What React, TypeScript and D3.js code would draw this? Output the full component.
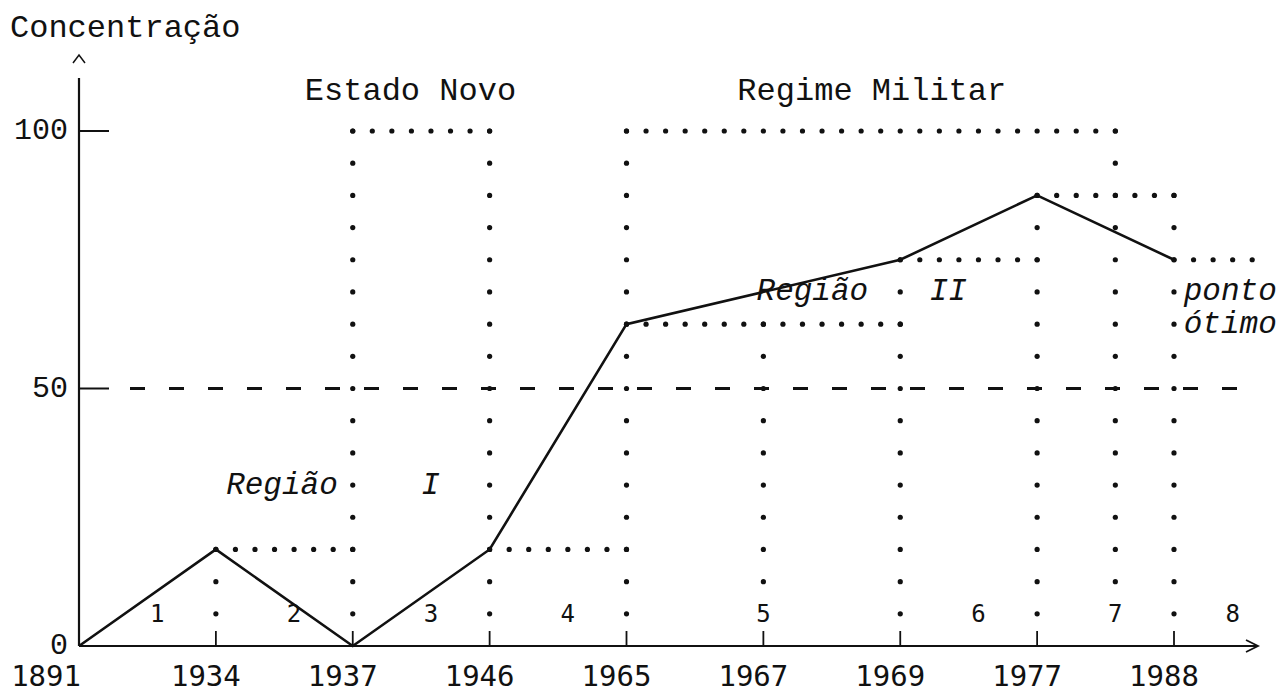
import React from "react";
import * as d3 from "d3";

// ---- data ----
const years = ["1891", "1934", "1937", "1946", "1965", "1967", "1969", "1977", "1988"];
const lineYears = ["1891", "1934", "1937", "1946", "1965", "1969", "1977", "1988"];
const lineValues = [0, 18.75, 0, 18.75, 62.5, 75, 87.5, 75];
const yTicks = [0, 50, 100];
const referenceValue = 50;
// dotted guide rows: value, from index, to index (index units along the year axis)
const rowValues = [18.75, 100, 18.75, 100, 62.5, 75, 87.5, 75];
const rowFrom = [1, 2, 3, 4, 4, 6, 7, 8];
const rowTo = [2, 3, 4, 7.5714, 6, 7, 8, 8.5714];
// dotted guide columns: index, top value, bottom value
const colIndex = [1, 2, 3, 4, 5, 6, 7, 7.5714, 8];
const colTop = [18.75, 100, 100, 100, 62.5, 75, 87.5, 100, 87.5];
const colBottom = [6.25, 6.25, 6.25, 6.25, 12.5, 6.25, 6.25, 12.5, 6.25];
// period numbers
const periodLabels = ["1", "2", "3", "4", "5", "6", "7", "8"];
const periodIndex = [0.5714, 1.5714, 2.5714, 3.5714, 5, 6.5714, 7.5714, 8.4286];
const periodValue = 6.25;
// annotations (index, value)
const eraLabels = ["Estado Novo", "Regime Militar"];
const eraIndex = [1.65, 4.81];
const regionTexts = ["Região", "I", "Região", "II", "ponto", "ótimo"];
const regionIndex = [1.075, 2.5, 4.95, 6.214, 8.0714, 8.0714];
const regionValue = [31.25, 31.25, 68.75, 68.75, 68.75, 62.5];
const yTitle = "Concentração";

const W = 1284;
const H = 688;
const mono = "'Liberation Mono', 'DejaVu Sans Mono', monospace";
const sansMono = "'DejaVu Sans Mono', 'Liberation Mono', monospace";

export default function App() {
  const x = d3.scaleLinear().domain([0, 8]).range([79, 1174]);
  const y = d3.scaleLinear().domain([0, 100]).range([646, 131]);
  const charStep = 1 / 7;
  const yStep = 6.25;

  const line = d3
    .line<number>()
    .x((_, i) => x(years.indexOf(lineYears[i])))
    .y((d) => y(d));

  const dots: { cx: number; cy: number }[] = [];
  rowValues.forEach((v, i) => {
    const n = Math.round((rowTo[i] - rowFrom[i]) / charStep);
    for (let k = 0; k <= n; k++) dots.push({ cx: x(rowFrom[i] + k * charStep), cy: y(v) });
  });
  colIndex.forEach((c, i) => {
    const n = Math.round((colTop[i] - colBottom[i]) / yStep);
    for (let k = 0; k <= n; k++) dots.push({ cx: x(c), cy: y(colTop[i] - k * yStep) });
  });

  const axisY = y(0);
  const axisX = x(0);

  return (
    <svg width={W} height={H} style={{ position: "absolute", left: 0, top: 0, background: "#fff" }}>
      <rect width={W} height={H} fill="#fff" />
      {/* y title */}
      <text x={10} y={37} fontFamily={mono} fontSize={32} fill="#111">
        {yTitle}
      </text>
      {/* caret */}
      <path d={`M${axisX - 6},63 L${axisX},55 L${axisX + 6},63`} fill="none" stroke="#111" strokeWidth={1.5} />
      {/* y axis */}
      <line x1={axisX} x2={axisX} y1={78} y2={axisY} stroke="#111" strokeWidth={2.2} />
      {yTicks.map((t) => (
        <g key={t}>
          {t > 0 && <line x1={axisX} x2={axisX + 30} y1={y(t)} y2={y(t)} stroke="#111" strokeWidth={2} />}
          <text x={68} y={y(t)} textAnchor="end" dominantBaseline="central" fontFamily={mono} fontSize={30} fill="#111">
            {t}
          </text>
        </g>
      ))}
      {/* x axis */}
      <line x1={axisX} x2={1257} y1={axisY} y2={axisY} stroke="#111" strokeWidth={2.2} />
      <path d={`M1246,${axisY - 6} L1258,${axisY} L1246,${axisY + 6}`} fill="none" stroke="#111" strokeWidth={1.8} />
      {years.map((yr, i) => (
        <g key={yr}>
          {i > 0 && <line x1={x(i)} x2={x(i)} y1={axisY - 15} y2={axisY} stroke="#111" strokeWidth={1.8} />}
          <text
            x={i === 0 ? x(i) + 2 : x(i) - 10}
            y={686}
            textAnchor={i === 0 ? "end" : "middle"}
            fontFamily={sansMono}
            fontSize={29}
            fill="#111"
          >
            {yr}
          </text>
        </g>
      ))}
      {/* reference dashed line */}
      <line
        x1={130}
        x2={1243}
        y1={y(referenceValue)}
        y2={y(referenceValue)}
        stroke="#111"
        strokeWidth={3}
        strokeDasharray="15 24"
      />
      {/* dotted guides */}
      {dots.map((d, i) => (
        <circle key={i} cx={d.cx} cy={d.cy} r={2.6} fill="#111" />
      ))}
      {/* data line */}
      <path d={line(lineValues) || ""} fill="none" stroke="#111" strokeWidth={2.6} />
      {/* period numbers */}
      {periodLabels.map((p, i) => (
        <text
          key={p}
          x={x(periodIndex[i])}
          y={y(periodValue)}
          textAnchor="middle"
          dominantBaseline="central"
          fontFamily={sansMono}
          fontSize={24}
          fill="#111"
        >
          {p}
        </text>
      ))}
      {/* era labels */}
      {eraLabels.map((e, i) => (
        <text key={e} x={x(eraIndex[i])} y={100} fontFamily={mono} fontSize={32} fill="#111">
          {e}
        </text>
      ))}
      {/* region annotations */}
      {regionTexts.map((t, i) => (
        <text
          key={i}
          x={x(regionIndex[i])}
          y={y(regionValue[i])}
          dominantBaseline="central"
          fontFamily={mono}
          fontStyle="italic"
          fontSize={31}
          fill="#111"
        >
          {t}
        </text>
      ))}
    </svg>
  );
}
